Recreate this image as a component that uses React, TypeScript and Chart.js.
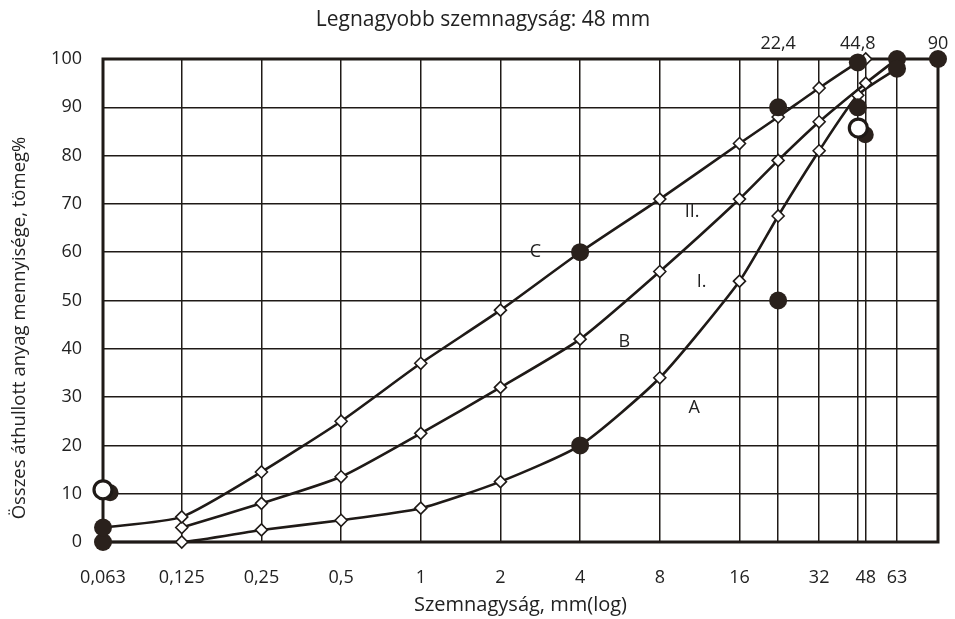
import { useEffect, useRef } from 'react';
import { Chart, registerables } from 'chart.js';

Chart.register(...registerables);

// ---- data ----
const gridSizes = [0.063, 0.125, 0.25, 0.5, 1, 2, 4, 8, 16, 22.4, 32, 44.8, 48, 63, 90];
const bottomTickValues = [0.063, 0.125, 0.25, 0.5, 1, 2, 4, 8, 16, 32, 48, 63];
const bottomTickLabels = ['0,063', '0,125', '0,25', '0,5', '1', '2', '4', '8', '16', '32', '48', '63'];
const topTickValues = [22.4, 44.8, 90];
const topTickLabels = ['22,4', '44,8', '90'];
const yTickValues = [0, 10, 20, 30, 40, 50, 60, 70, 80, 90, 100];

const sizesA = [0.063, 0.125, 0.25, 0.5, 1, 2, 4, 8, 16, 22.4, 32, 44.8, 63];
const valuesA = [0, 0, 2.5, 4.5, 7, 12.5, 20, 34, 54, 67.5, 81, 92.5, 98];
const sizesB = [0.125, 0.25, 0.5, 1, 2, 4, 8, 16, 22.4, 32, 48, 63];
const valuesB = [3, 8, 13.5, 22.5, 32, 42, 56, 71, 79, 87, 95, 100];
const sizesC = [0.063, 0.125, 0.25, 0.5, 1, 2, 4, 8, 16, 22.4, 32, 44.8, 48];
const valuesC = [3, 5.2, 14.5, 25, 37, 48, 60, 71, 82.5, 88, 94, 99.3, 100];

const dotSizes = [0.063, 0.063, 4, 4, 22.4, 22.4, 44.8, 44.8, 63, 63, 90];
const dotValues = [0, 3, 20, 60, 90, 50, 99.3, 90, 100, 98, 100];
const shadowSizes = [0.067, 47.8];
const shadowValues = [10.2, 84.3];
const ringSizes = [0.063, 45];
const ringValues = [10.8, 85.7];

const curveLabels = ['C', 'B', 'A', 'I.', 'II.'];
const curveLabelSizes = [2.71, 5.87, 10.8, 11.5, 10.6];
const curveLabelValues = [60, 41.4, 27.7, 53.8, 68.3];

const headline = 'Legnagyobb szemnagyság: 48 mm';
const yTitle = 'Összes áthullott anyag mennyisége, tömeg%';
const xTitle = 'Szemnagyság, mm(log)';

// ---- styles ----
const FONT = 'Open Sans';
const INK = '#1f1a17';
const DOT = '#2a211c';
const TEXT = '#222222';

const pts = (xs: number[], ys: number[]) => xs.map((x, i) => ({ x, y: ys[i] }));
const isDot = (x: number, y: number) => dotSizes.some((s, i) => s === x && dotValues[i] === y);

export default function App() {
  const ref = useRef<HTMLCanvasElement | null>(null);

  useEffect(() => {
    if (!ref.current) return;

    const curve = (xs: number[], ys: number[]) => ({
      type: 'line' as const,
      data: pts(xs, ys),
      borderColor: INK,
      borderWidth: 2.6,
      tension: 0.2,
      pointStyle: 'rectRot' as const,
      pointRadius: (ctx: any) => {
        const p = ctx.raw;
        return p && isDot(p.x, p.y) ? 0 : 6;
      },
      pointBackgroundColor: '#ffffff',
      pointBorderColor: INK,
      pointBorderWidth: 1.6,
      clip: false as const,
    });

    const overlay = {
      id: 'overlay',
      beforeDatasetsDraw(chart: any) {
        const { ctx, chartArea: a } = chart;
        ctx.save();
        ctx.strokeStyle = INK;
        ctx.lineWidth = 3;
        ctx.strokeRect(a.left, a.top, a.right - a.left, a.bottom - a.top);
        ctx.restore();
      },
      afterDatasetsDraw(chart: any) {
        const { ctx } = chart;
        const xs = chart.scales.x;
        const ys = chart.scales.y;
        ctx.save();
        ctx.fillStyle = TEXT;
        ctx.font = `18px "${FONT}"`;
        ctx.textAlign = 'center';
        ctx.textBaseline = 'middle';
        curveLabels.forEach((t, i) => {
          ctx.fillText(t, xs.getPixelForValue(curveLabelSizes[i]), ys.getPixelForValue(curveLabelValues[i]));
        });
        ctx.font = `21px "${FONT}"`;
        ctx.fillText(headline, 483, 20);
        ctx.font = `18.5px "${FONT}"`;
        ctx.translate(20, 328);
        ctx.rotate(-Math.PI / 2);
        ctx.fillText(yTitle, 0, 0);
        ctx.restore();
      },
    };

    const chart = new Chart(ref.current, {
      type: 'line',
      data: {
        datasets: [
          {
            type: 'scatter',
            data: pts(ringSizes, ringValues),
            pointRadius: 9,
            pointBackgroundColor: '#ffffff',
            pointBorderColor: INK,
            pointBorderWidth: 3.2,
            clip: false,
          } as any,
          {
            type: 'scatter',
            data: pts(dotSizes, dotValues),
            pointRadius: 9,
            pointBackgroundColor: DOT,
            pointBorderColor: DOT,
            pointBorderWidth: 0,
            clip: false,
          } as any,
          {
            type: 'scatter',
            data: pts(shadowSizes, shadowValues),
            pointRadius: 8.5,
            pointBackgroundColor: DOT,
            pointBorderColor: DOT,
            pointBorderWidth: 0,
            clip: false,
          } as any,
          curve(sizesC, valuesC) as any,
          curve(sizesB, valuesB) as any,
          curve(sizesA, valuesA) as any,
        ],
      },
      options: {
        animation: false,
        responsive: true,
        maintainAspectRatio: false,
        layout: { padding: { left: 0, right: 17, top: 0, bottom: 0 } },
        plugins: { legend: { display: false }, tooltip: { enabled: false }, title: { display: false } },
        scales: {
          x: {
            type: 'logarithmic',
            position: 'bottom',
            min: 0.063,
            max: 90,
            afterBuildTicks: (s: any) => {
              s.ticks = gridSizes.map((v) => ({ value: v }));
            },
            afterFit: (s: any) => {
              s.height = 77;
              s.paddingLeft = 0;
              s.paddingRight = 0;
            },
            grid: { color: INK, lineWidth: 1.5, drawTicks: false },
            border: { display: false },
            ticks: {
              autoSkip: false,
              maxRotation: 0,
              padding: 25,
              color: TEXT,
              font: { family: FONT, size: 18 },
              callback: (v: any) => {
                const i = bottomTickValues.indexOf(Number(v));
                return i >= 0 ? bottomTickLabels[i] : '';
              },
            },
            title: {
              display: true,
              text: xTitle,
              color: TEXT,
              font: { family: FONT, size: 20 },
              padding: { top: 0, bottom: 2 },
            },
          },
          xTop: {
            type: 'logarithmic',
            position: 'top',
            min: 0.063,
            max: 90,
            afterBuildTicks: (s: any) => {
              s.ticks = topTickValues.map((v) => ({ value: v }));
            },
            afterFit: (s: any) => {
              s.height = 59;
              s.paddingLeft = 0;
              s.paddingRight = 0;
            },
            grid: { display: false, drawTicks: false },
            border: { display: false },
            ticks: {
              autoSkip: false,
              maxRotation: 0,
              padding: 4,
              color: TEXT,
              font: { family: FONT, size: 18 },
              callback: (v: any) => {
                const i = topTickValues.indexOf(Number(v));
                return i >= 0 ? topTickLabels[i] : '';
              },
            },
          },
          y: {
            type: 'linear',
            position: 'left',
            min: 0,
            max: 100,
            afterBuildTicks: (s: any) => {
              s.ticks = yTickValues.map((v) => ({ value: v }));
            },
            afterFit: (s: any) => {
              s.width = 103;
              s.paddingTop = 0;
              s.paddingBottom = 0;
            },
            grid: { color: INK, lineWidth: 1.5, drawTicks: false },
            border: { display: false },
            ticks: {
              padding: 21,
              color: TEXT,
              font: { family: FONT, size: 18 },
            },
          },
        },
      } as any,
      plugins: [overlay],
    });

    return () => chart.destroy();
  }, []);

  return (
    <div style={{ position: 'fixed', left: 0, top: 0, width: 955, height: 619, background: '#ffffff' }}>
      <canvas ref={ref} />
    </div>
  );
}
